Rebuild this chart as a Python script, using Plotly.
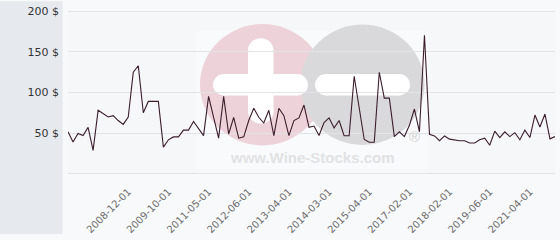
import plotly.graph_objects as go

# ---- data ----
prices = [51.5, 39, 49.5, 46.8, 57, 28.5, 78, 73.8, 69.8, 71.4,
          65.4, 60.7, 69.8, 125, 133, 75, 89, 89, 89, 32.5,
          41.6, 45.2, 45.2, 53.6, 53.6, 64.2, 55.5, 46.8, 95.2, 69.4,
          43.6, 95.2, 48.8, 69.4, 43.6, 45.2, 65.4, 80.5, 69.4, 62.3,
          78.1, 46.8, 80.5, 71.4, 46.8, 65.4, 68.6, 84.5, 57, 58.6,
          47, 63, 68.6, 56.3, 65.4, 46.6, 46.6, 120.1, 81, 42,
          38.5, 38.5, 125, 93.1, 93.1, 45.6, 51.5, 45.6, 59.5, 79.6,
          51.5, 170.6, 48.3, 46.4, 40.5, 46.4, 42.4, 41.2, 40.5, 40.5,
          37.6, 37.6, 41.6, 43.6, 34.9, 52.4, 44.4, 51.5, 45.6, 50.4,
          41.6, 53.6, 44.4, 72.2, 57.5, 73.4, 42.8, 45.6]
point_index = list(range(len(prices)))

tick_index = [12, 20, 28, 36, 44, 52, 60, 68, 76, 84, 92]
tick_labels = ["2008-12-01", "2009-10-01", "2011-05-01", "2012-06-01",
               "2013-04-01", "2014-03-01", "2015-04-01", "2017-02-01",
               "2018-02-01", "2019-06-01", "2021-04-01"]

y_ticks = [0, 50, 100, 150, 200]
y_labels = ["", "50 $", "100 $", "150 $", "200 $"]

# ---- layout geometry (pixels) ----
W, H = 560, 240
L, R, T, B = 68, 5, 10, 62
PW, PH = W - L - R, H - T - B
GRID = "#e2e3e6"


def px(x):
    return (x - L) / PW


def py(y):
    return (H - B - y) / PH


fig = go.Figure()
fig.add_trace(go.Scatter(
    x=point_index, y=prices, mode="lines",
    line=dict(color="#3b1d2c", width=1.1),
    hoverinfo="skip", showlegend=False,
))

shapes = []
# left grey strip
shapes.append(dict(type="rect", xref="paper", yref="paper",
                   x0=px(0), x1=px(62.7), y0=py(H), y1=py(0),
                   fillcolor="#e6eaee", line=dict(width=0), layer="below"))
# watermark background
shapes.append(dict(type="rect", xref="paper", yref="paper",
                   x0=px(196), x1=px(428), y0=py(173), y1=py(30),
                   fillcolor="rgba(255,255,255,0.35)", line=dict(width=0), layer="below"))


def circle(cx, cy, r, color):
    return dict(type="circle", xref="paper", yref="paper",
                x0=px(cx - r), x1=px(cx + r), y0=py(cy + r), y1=py(cy - r),
                fillcolor=color, line=dict(width=0), layer="below")


def pill(x0, x1, y0, y1, color):
    out = []
    if (x1 - x0) >= (y1 - y0):
        r = (y1 - y0) / 2
        out.append(dict(type="rect", xref="paper", yref="paper",
                        x0=px(x0 + r), x1=px(x1 - r), y0=py(y1), y1=py(y0),
                        fillcolor=color, line=dict(width=0), layer="below"))
        out.append(circle(x0 + r, (y0 + y1) / 2, r, color))
        out.append(circle(x1 - r, (y0 + y1) / 2, r, color))
    else:
        r = (x1 - x0) / 2
        out.append(dict(type="rect", xref="paper", yref="paper",
                        x0=px(x0), x1=px(x1), y0=py(y1 - r), y1=py(y0 + r),
                        fillcolor=color, line=dict(width=0), layer="below"))
        out.append(circle((x0 + x1) / 2, y0 + r, r, color))
        out.append(circle((x0 + x1) / 2, y1 - r, r, color))
    return out


shapes.append(circle(262.5, 86, 62.5, "#edd3d9"))
shapes.append(circle(362.5, 86, 62, "#d9d9db"))
shapes += pill(248, 273.5, 38, 126, "#ffffff")
shapes += pill(213, 308, 75, 97, "#ffffff")
shapes += pill(315, 410, 75, 97, "#ffffff")

# edge grid lines (bottom and top), drawn at the axis tick values
for yv in (y_ticks[0], y_ticks[-1]):
    shapes.append(dict(type="line", xref="paper", yref="y", x0=0, x1=1,
                       y0=yv, y1=yv, line=dict(color=GRID, width=1), layer="below"))

annotations = [
    dict(text="www.Wine-Stocks.com", xref="paper", yref="paper",
         x=px(312.5), y=py(160.5), showarrow=False,
         font=dict(family="Liberation Sans", size=15, color="#e2e2e4", weight="bold"),
         xanchor="center", yanchor="middle"),
    dict(text="®", xref="paper", yref="paper",
         x=px(414), y=py(139), showarrow=False,
         font=dict(family="Liberation Sans", size=15, color="#d2d2d4"),
         xanchor="center", yanchor="middle"),
]

fig.update_layout(
    width=W, height=H,
    margin=dict(l=L, r=R, t=T, b=B, pad=0),
    paper_bgcolor="#f8f9fb",
    plot_bgcolor="#f6f7f9",
    shapes=shapes,
    annotations=annotations,
    xaxis=dict(range=[0, 97], tickvals=tick_index, ticktext=tick_labels,
               tickangle=-45, showgrid=False, zeroline=False, showline=False,
               ticks="", tickfont=dict(family="DejaVu Sans", size=10, color="#6b6b6b"),
               ticklabelstandoff=9, fixedrange=True),
    yaxis=dict(range=[-0.6, 200.6], tickvals=y_ticks, ticktext=y_labels,
               showgrid=True, gridcolor=GRID, gridwidth=1, zeroline=False,
               showline=False, ticks="",
               tickfont=dict(family="DejaVu Sans", size=11, color="#333333"),
               ticklabelstandoff=8, fixedrange=True),
)

fig.write_html("out.html", config={"displayModeBar": False})
